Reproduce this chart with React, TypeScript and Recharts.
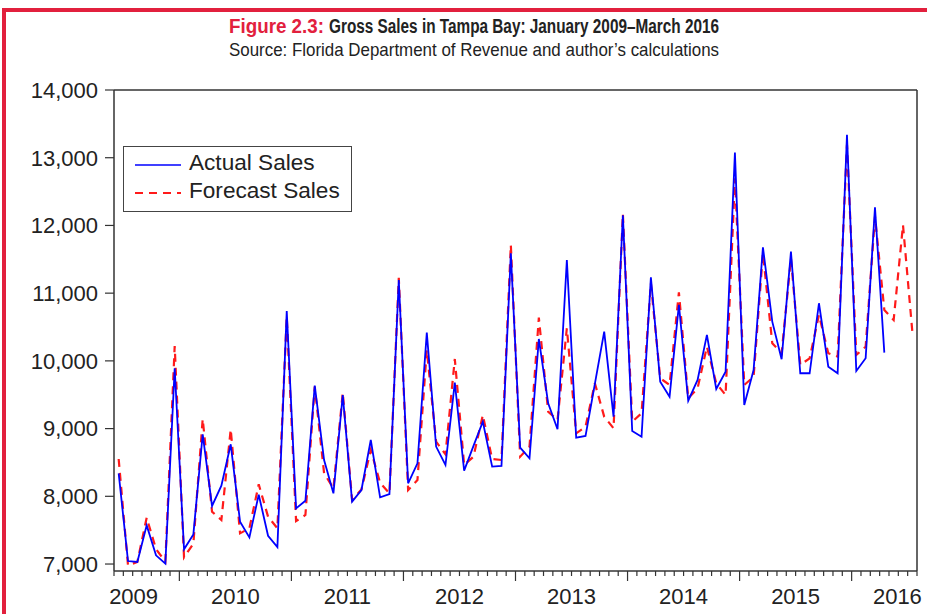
import { LineChart, Line, XAxis, YAxis, Legend } from "recharts";

// monthly gross sales (millions of $), first obs. June 2009
const actualSales = [
  8340, 7044, 7030, 7571, 7128, 7005, 9890, 7217, 7438, 8916, 7857, 8157,
  8768, 7625, 7394, 8024, 7418, 7251, 10737, 7822, 7935, 9634, 8536, 8044,
  9496, 7921, 8093, 8832, 7985, 8034, 11195, 8192, 8487, 10418, 8734, 8462,
  9678, 8380, 8745, 9102, 8438, 8448, 11590, 8718, 8560, 10323, 9374, 8990,
  11490, 8866, 8891, 9660, 10432, 9176, 12150, 8964, 8880, 11235, 9693, 9471,
  10826, 9412, 9718, 10383, 9585, 9840, 13076, 9349, 9865, 11678, 10580, 10024,
  11613, 9817, 9817, 10851, 9915, 9817, 13337, 9851, 10038, 12269, 10122,
];

const forecastSales = [
  8551, 6980, 7030, 7684, 7220, 7035, 10220, 7099, 7300, 9142, 7773, 7650,
  8990, 7453, 7527, 8177, 7699, 7527, 10650, 7635, 7724, 9620, 8340, 8118,
  9530, 7945, 8100, 8684, 8200, 8044, 11225, 8093, 8240, 10160, 8807, 8620,
  10028, 8462, 8585, 9200, 8550, 8536, 11712, 8585, 8733, 10638, 9250, 9127,
  10482, 8930, 9028, 9669, 9176, 9004, 12170, 9102, 9226, 11146, 9743, 9644,
  11013, 9447, 9595, 10210, 9669, 9496, 12697, 9644, 9766, 11589, 10260, 10113,
  11515, 9940, 10038, 10678, 10112, 10063, 13189, 10087, 10210, 12130, 10752,
  10604, 12007, 10431,
];

const yTicks = [7000, 8000, 9000, 10000, 11000, 12000, 13000, 14000];
const yearLabels = ["2009", "2010", "2011", "2012", "2013", "2014", "2015", "2016"];

const data = forecastSales.map((f, i) => ({
  i,
  actual: i < actualSales.length ? actualSales[i] : null,
  forecast: f,
}));

const N = forecastSales.length;
// slot boundaries between monthly observations
const boundaries = Array.from({ length: N + 1 }, (_, k) => k - 0.5);
// year labels: centred on each calendar year, end labels kept inside the axis
const yearAt = yearLabels.map((_, k) =>
  k === 0 ? 1.6 : k === yearLabels.length - 1 ? 83.4 : 12.5 + 12 * (k - 1)
);
const xTicks = [...boundaries, yearAt[0], yearAt[yearAt.length - 1]].sort(
  (a, b) => a - b
);

const AXIS = "#333";
const RED = "#e2203d";
const FONT = "'Liberation Sans', Arial, sans-serif";

const XTick = (props: any) => {
  const { x, y, payload } = props;
  const v = payload.value;
  const isBoundary = Number.isInteger(v + 0.5);
  const major = isBoundary && (v + 0.5 - 7) % 12 === 0;
  const li = yearAt.findIndex((p) => Math.abs(p - v) < 1e-6);
  return (
    <g>
      {isBoundary && (
        <line x1={x} x2={x} y1={y} y2={y + (major ? 10 : 5)} stroke={AXIS} strokeWidth={1.2} />
      )}
      {li >= 0 && (
        <text x={x} y={y + 33} textAnchor="middle" fontSize={22} fill="#222" fontFamily={FONT}>
          {yearLabels[li]}
        </text>
      )}
    </g>
  );
};

const LegendBox = () => (
  <div
    style={{
      width: 229,
      height: 66,
      boxSizing: "border-box",
      border: "1.5px solid #444",
      background: "#fff",
      position: "relative",
      fontFamily: FONT,
      fontSize: 22.6,
      color: "#222",
    }}
  >
    <svg width={60} height={60} style={{ position: "absolute", left: 0, top: 0 }}>
      <line x1={11} x2={57} y1={18} y2={18} stroke="#0000ff" strokeWidth={1.6} />
      <line x1={11} x2={57} y1={46} y2={46} stroke="#ff1a1a" strokeWidth={2} strokeDasharray="8 6" />
    </svg>
    <div style={{ position: "absolute", left: 65, top: 2, lineHeight: "28px" }}>
      <div>Actual Sales</div>
      <div>Forecast Sales</div>
    </div>
  </div>
);

export default function App() {
  return (
    <div
      style={{
        position: "absolute",
        left: 0,
        top: 0,
        width: 927,
        height: 614,
        overflow: "hidden",
        background: "#fff",
      }}
    >
      <div
        style={{
          position: "absolute",
          left: 2,
          top: 8,
          width: 1000,
          height: 700,
          border: `4px solid ${RED}`,
          boxSizing: "border-box",
        }}
      />
      <svg width={927} height={70} style={{ position: "absolute", left: 0, top: 0 }}>
        <text
          x={229}
          y={33}
          textLength={95}
          lengthAdjust="spacingAndGlyphs"
          fontFamily={FONT}
          fontWeight="bold"
          fontSize={19.5}
          fill={RED}
        >
          Figure 2.3:
        </text>
        <text
          x={329}
          y={33}
          textLength={390}
          lengthAdjust="spacingAndGlyphs"
          fontFamily={FONT}
          fontWeight="bold"
          fontSize={19.5}
          fill="#222"
        >
          Gross Sales in Tampa Bay: January 2009–March 2016
        </text>
        <text
          x={229}
          y={56}
          textLength={490}
          lengthAdjust="spacingAndGlyphs"
          fontFamily={FONT}
          fontSize={18.5}
          fill="#222"
        >
          Source: Florida Department of Revenue and author’s calculations
        </text>
      </svg>
      <div style={{ position: "absolute", left: 0, top: 0 }}>
        <LineChart
          width={927}
          height={614}
          data={data}
          margin={{ top: 89, right: 9, bottom: 42, left: 113 }}
        >
          <XAxis
            type="number"
            dataKey="i"
            domain={[-0.5, N - 0.5]}
            ticks={xTicks}
            interval={0}
            height={1}
            tickSize={0}
            tickMargin={0}
            tickLine={false}
            axisLine={{ stroke: AXIS, strokeWidth: 1.5 }}
            tick={(p: any) => <XTick {...p} />}
            allowDataOverflow
          />
          <XAxis
            xAxisId="top"
            orientation="top"
            type="number"
            dataKey="i"
            domain={[-0.5, N - 0.5]}
            height={1}
            tick={false}
            tickLine={false}
            axisLine={{ stroke: AXIS, strokeWidth: 1.5 }}
          />
          <YAxis
            type="number"
            domain={[6897, 14000]}
            ticks={yTicks}
            interval={0}
            width={1}
            tickSize={9}
            tickMargin={7}
            allowDataOverflow
            tickFormatter={(v: number) => v.toLocaleString("en-US")}
            tick={{ fontSize: 22, fill: "#222", fontFamily: FONT }}
            tickLine={{ stroke: AXIS, strokeWidth: 1.2 }}
            axisLine={{ stroke: AXIS, strokeWidth: 1.5 }}
          />
          <YAxis
            yAxisId="right"
            orientation="right"
            width={1}
            tick={false}
            tickLine={false}
            axisLine={{ stroke: AXIS, strokeWidth: 1.5 }}
          />
          <Legend
            layout="vertical"
            align="center"
            verticalAlign="middle"
            wrapperStyle={{ left: 123, top: 146, width: 229, height: 66 }}
            content={() => <LegendBox />}
          />
          <Line
            dataKey="forecast"
            stroke="#ff1a1a"
            strokeWidth={2.2}
            strokeDasharray="8 6"
            dot={false}
            type="linear"
            isAnimationActive={false}
          />
          <Line
            dataKey="actual"
            stroke="#0000ff"
            strokeWidth={1.8}
            dot={false}
            type="linear"
            isAnimationActive={false}
          />
        </LineChart>
      </div>
    </div>
  );
}
